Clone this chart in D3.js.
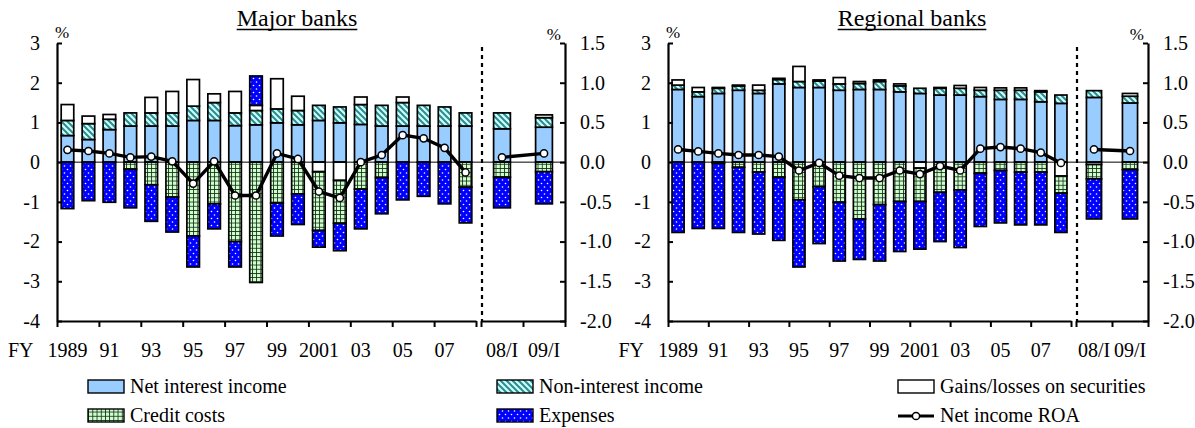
<!DOCTYPE html>
<html><head><meta charset="utf-8">
<script src="https://cdn.jsdelivr.net/npm/d3@7"></script>
<style>
body{margin:0;background:#fff}
svg{display:block}
text{font-family:"Liberation Serif","Times New Roman",serif;fill:#000}
</style>
</head><body>
<svg id="chart" width="1195" height="428"></svg>
<script>
// ---------- DATA ----------
const periods = ["1989","1990","1991","1992","1993","1994","1995","1996","1997","1998",
                 "1999","2000","2001","2002","2003","2004","2005","2006","2007","2008"];
const subPeriods = ["08/I","09/I"];
const mainTickLabels = ["1989","91","93","95","97","99","2001","03","05","07"];
const leftTicks = [3,2,1,0,-1,-2,-3,-4];
const rightTicks = [1.5,1.0,0.5,0.0,-0.5,-1.0,-1.5,-2.0];
const seriesNames = ["Net interest income","Non-interest income","Gains/losses on securities","Credit costs","Expenses","Net income ROA"];

// Major banks (20 fiscal years + 08/I, 09/I)
const majorNII    = [0.67,0.57,0.82,0.91,0.91,0.91,1.05,1.05,0.92,0.94,0.99,0.94,1.05,0.99,0.95,0.91,0.91,0.91,0.91,0.91, 0.84,0.88];
const majorNonII  = [0.38,0.40,0.26,0.33,0.33,0.33,0.36,0.45,0.32,0.36,0.35,0.36,0.38,0.40,0.50,0.52,0.59,0.52,0.48,0.33, 0.40,0.24];
const majorGains  = [0.40,0.19,0.12,0.00,0.39,0.54,0.67,0.22,0.54,0.13,0.76,0.36,-0.24,-0.46,0.19,0.00,0.14,0.00,0.00,0.00, 0.00,0.07];
const majorCredit = [0.00,0.00,0.00,-0.18,-0.57,-0.88,-1.86,-1.05,-2.00,-3.03,-1.03,-0.80,-1.48,-1.08,-0.68,-0.39,0.00,0.00,0.00,-0.63, -0.38,-0.24];
const majorExp    = [-1.17,-0.97,-1.01,-0.97,-0.92,-0.88,-0.78,-0.63,-0.64,0.74,-0.83,-0.77,-0.42,-0.69,-1.00,-0.91,-0.95,-0.86,-1.05,-0.90, -0.77,-0.81];
const majorROA    = [0.155,0.14,0.11,0.06,0.07,0.01,-0.27,0.01,-0.42,-0.42,0.11,0.04,-0.37,-0.45,0.00,0.09,0.34,0.30,0.18,-0.13, 0.06,0.11];

// Regional banks
const regNII    = [1.83,1.65,1.73,1.81,1.73,1.97,1.88,1.88,1.81,1.83,1.83,1.77,1.73,1.69,1.69,1.65,1.58,1.58,1.52,1.48, 1.63,1.49];
const regNonII  = [0.11,0.12,0.13,0.11,0.08,0.11,0.15,0.16,0.16,0.15,0.20,0.15,0.13,0.17,0.17,0.16,0.23,0.23,0.25,0.21, 0.17,0.17];
const regGains  = [0.13,0.11,0.02,0.02,0.13,0.03,0.38,0.03,0.16,0.05,0.04,0.05,-0.15,0.02,0.07,0.07,0.06,0.06,0.03,-0.35, -0.06,0.07];
const regCredit = [0.00,0.00,-0.03,-0.13,-0.25,-0.38,-0.95,-0.62,-1.01,-1.43,-1.07,-0.99,-0.84,-0.76,-0.70,-0.28,-0.21,-0.25,-0.25,-0.43, -0.36,-0.19];
const regExp    = [-1.77,-1.67,-1.64,-1.64,-1.56,-1.59,-1.69,-1.43,-1.48,-1.02,-1.42,-1.26,-1.20,-1.24,-1.45,-1.34,-1.32,-1.33,-1.33,-0.99, -1.01,-1.24];
const regROA    = [0.16,0.135,0.11,0.09,0.09,0.07,-0.105,-0.01,-0.17,-0.20,-0.20,-0.105,-0.15,-0.05,-0.105,0.17,0.19,0.17,0.12,-0.01, 0.16,0.14];

// ---------- DRAW ----------
const svg = d3.select("#chart");
const defs = svg.append("defs");

const ph = defs.append("pattern").attr("id","hatch").attr("patternUnits","userSpaceOnUse").attr("width",6).attr("height",6);
ph.append("rect").attr("width",6).attr("height",6).attr("fill","#CCFFFF");
ph.append("path").attr("d","M-1,-1L7,7M-1,5L1,7M5,-1L7,1").attr("stroke","#2E8B8B").attr("stroke-width",2);

const pg = defs.append("pattern").attr("id","grid").attr("patternUnits","userSpaceOnUse").attr("width",4.2).attr("height",4.2);
pg.append("rect").attr("width",4.2).attr("height",4.2).attr("fill","#CCFFCC");
pg.append("path").attr("d","M0,0.4H4.2M0.4,0V4.2").attr("stroke","#1a2e1a").attr("stroke-width",0.9);

const pd = defs.append("pattern").attr("id","dots").attr("patternUnits","userSpaceOnUse").attr("width",6).attr("height",7);
pd.append("rect").attr("width",6).attr("height",7).attr("fill","#0000FF");
pd.append("circle").attr("cx",1.5).attr("cy",1.5).attr("r",0.8).attr("fill","#fff");
pd.append("circle").attr("cx",4.5).attr("cy",5).attr("r",0.8).attr("fill","#fff");

const fills = ["#99CCFF","url(#hatch)","#FFFFFF","url(#grid)","url(#dots)"];
const keys = ["nii","nonii","gains","credit","exp"];

const yTop = 43, yBot = 321;

function drawChart(cfg){
  const g = svg.append("g");
  const yL = d3.scaleLinear().domain([-4,3]).range([yBot,yTop]);
  const yR = d3.scaleLinear().domain([-2,1.5]).range([yBot,yTop]);
  const xMain = d3.scaleBand().domain(periods).range(cfg.main).paddingInner(0.4).paddingOuter(0.2);
  const xSub = d3.scaleBand().domain(subPeriods).range(cfg.sub).paddingInner(cfg.subPad).paddingOuter(cfg.subPad/2);
  const cats = periods.concat(subPeriods);
  const xPos = c => periods.includes(c) ? xMain(c) : xSub(c);
  const bw = c => periods.includes(c) ? xMain.bandwidth() : xSub.bandwidth();
  const xC = c => xPos(c) + bw(c)/2;

  const rows = cats.map((c,i)=>({cat:c, nii:cfg.nii[i], nonii:cfg.nonii[i], gains:cfg.gains[i], credit:cfg.credit[i], exp:cfg.exp[i]}));
  const stacked = d3.stack().keys(keys).offset(d3.stackOffsetDiverging)(rows);

  stacked.forEach((s,si)=>{
    g.append("g").selectAll("rect").data(s.filter(d=>Math.abs(d[1]-d[0])>0.001)).join("rect")
      .attr("x", d=>xPos(d.data.cat))
      .attr("width", d=>bw(d.data.cat))
      .attr("y", d=>yL(Math.max(d[0],d[1])))
      .attr("height", d=>Math.abs(yL(d[0])-yL(d[1])))
      .attr("fill", fills[si])
      .attr("stroke","#000").attr("stroke-width",1.7);
  });

  g.append("line").attr("x1",cfg.main[0]).attr("x2",cfg.sub[1]).attr("y1",yL(0)).attr("y2",yL(0))
    .attr("stroke","#000").attr("stroke-width",1);

  g.append("line").attr("x1",cfg.sep).attr("x2",cfg.sep).attr("y1",yTop+4).attr("y2",yBot)
    .attr("stroke","#000").attr("stroke-width",2.2).attr("stroke-dasharray","4,4");

  g.append("g").attr("transform",`translate(${cfg.main[0]},0)`)
    .call(d3.axisLeft(yL).tickValues(leftTicks).tickFormat(d=>String(d)).tickSizeInner(-5).tickSizeOuter(0).tickPadding(17));
  g.append("g").attr("transform",`translate(${cfg.sub[1]},0)`)
    .call(d3.axisRight(yR).tickValues(rightTicks).tickFormat(d=>d.toFixed(1)).tickSizeInner(-5).tickSizeOuter(0).tickPadding(15));
  const xTickMain = d3.scaleLinear().domain([0,periods.length]).range(cfg.main);
  g.append("g").attr("transform",`translate(0,${yBot})`)
    .call(d3.axisBottom(xTickMain).tickValues(d3.range(0,periods.length+1,2)).tickFormat("").tickSizeInner(6).tickSizeOuter(0));
  const xTickSub = d3.scaleLinear().domain([0,subPeriods.length]).range(cfg.sub);
  g.append("g").attr("transform",`translate(0,${yBot})`)
    .call(d3.axisBottom(xTickSub).tickValues([0,1,2]).tickFormat("").tickSizeInner(6).tickSizeOuter(0));
  g.selectAll(".domain").attr("stroke","#000").attr("stroke-width",2.2);
  g.selectAll(".tick line").attr("stroke","#000").attr("stroke-width",2);
  g.selectAll(".tick text").style("font-size","20px").style("font-family","'Liberation Serif',serif");

  const lab = g.append("g").style("font-size","20px");
  const labelYears = periods.filter((p,i)=>i%2===0);
  lab.selectAll("text.m").data(labelYears).join("text").attr("class","m")
    .attr("x", (d)=>xC(d)).attr("y",357).attr("text-anchor","middle")
    .text((d,i)=>mainTickLabels[i]);
  lab.selectAll("text.s").data(subPeriods).join("text").attr("class","s")
    .attr("x", d=>xC(d)).attr("y",357).attr("text-anchor","middle").text(d=>d);
  lab.append("text").attr("x", xC(periods[0]) - 34).attr("y",357).attr("text-anchor","end").text("FY");

  const line = d3.line().x(d=>xC(d.cat)).y(d=>yR(d.v));
  const roaMain = periods.map((c,i)=>({cat:c, v:cfg.roa[i]}));
  const roaSub = subPeriods.map((c,i)=>({cat:c, v:cfg.roa[periods.length+i]}));
  [roaMain, roaSub].forEach(seg=>{
    g.append("path").datum(seg).attr("d",line).attr("fill","none").attr("stroke","#000").attr("stroke-width",3.4);
    g.append("g").selectAll("circle").data(seg).join("circle")
      .attr("cx",d=>xC(d.cat)).attr("cy",d=>yR(d.v)).attr("r",3.6)
      .attr("fill","#fff").attr("stroke","#000").attr("stroke-width",1.5);
  });

  g.append("text").attr("x",cfg.main[0]-2).attr("y",38).style("font-size","17px").text("%");
  g.append("text").attr("x",cfg.sub[1]-4).attr("y",40).attr("text-anchor","end").style("font-size","17px").text("%");

  const t = g.append("text").attr("x",cfg.titleX).attr("y",26).attr("text-anchor","middle")
    .style("font-size","24px").text(cfg.title);
  const bb = t.node().getBBox();
  g.append("line").attr("x1",bb.x).attr("x2",bb.x+bb.width).attr("y1",29.5).attr("y2",29.5)
    .attr("stroke","#000").attr("stroke-width",1.5);
}

drawChart({title:"Major banks", titleX:297, main:[57,476], sub:[481,565], sep:482, subPad:0.6,
  nii:majorNII, nonii:majorNonII, gains:majorGains, credit:majorCredit, exp:majorExp, roa:majorROA});
drawChart({title:"Regional banks", titleX:912, main:[668,1071], sub:[1076,1148], sep:1077, subPad:0.58,
  nii:regNII, nonii:regNonII, gains:regGains, credit:regCredit, exp:regExp, roa:regROA});

const legend = svg.append("g").style("font-size","20px");
const legItems = [
  {name:seriesNames[0], x:88,  y:387, fill:fills[0]},
  {name:seriesNames[1], x:497, y:387, fill:fills[1]},
  {name:seriesNames[2], x:898, y:387, fill:fills[2]},
  {name:seriesNames[3], x:88,  y:416, fill:fills[3]},
  {name:seriesNames[4], x:497, y:416, fill:fills[4]},
  {name:seriesNames[5], x:898, y:416, fill:null}
];
legItems.forEach(it=>{
  if(it.fill){
    legend.append("rect").attr("x",it.x).attr("y",it.y-7).attr("width",36).attr("height",13)
      .attr("fill",it.fill).attr("stroke","#000").attr("stroke-width",1.4);
  } else {
    legend.append("line").attr("x1",it.x).attr("x2",it.x+36).attr("y1",it.y).attr("y2",it.y)
      .attr("stroke","#000").attr("stroke-width",3.2);
    legend.append("circle").attr("cx",it.x+18).attr("cy",it.y).attr("r",3.6)
      .attr("fill","#fff").attr("stroke","#000").attr("stroke-width",1.5);
  }
  legend.append("text").attr("x",it.x+42).attr("y",it.y+6).text(it.name);
});
</script>
</body></html>
